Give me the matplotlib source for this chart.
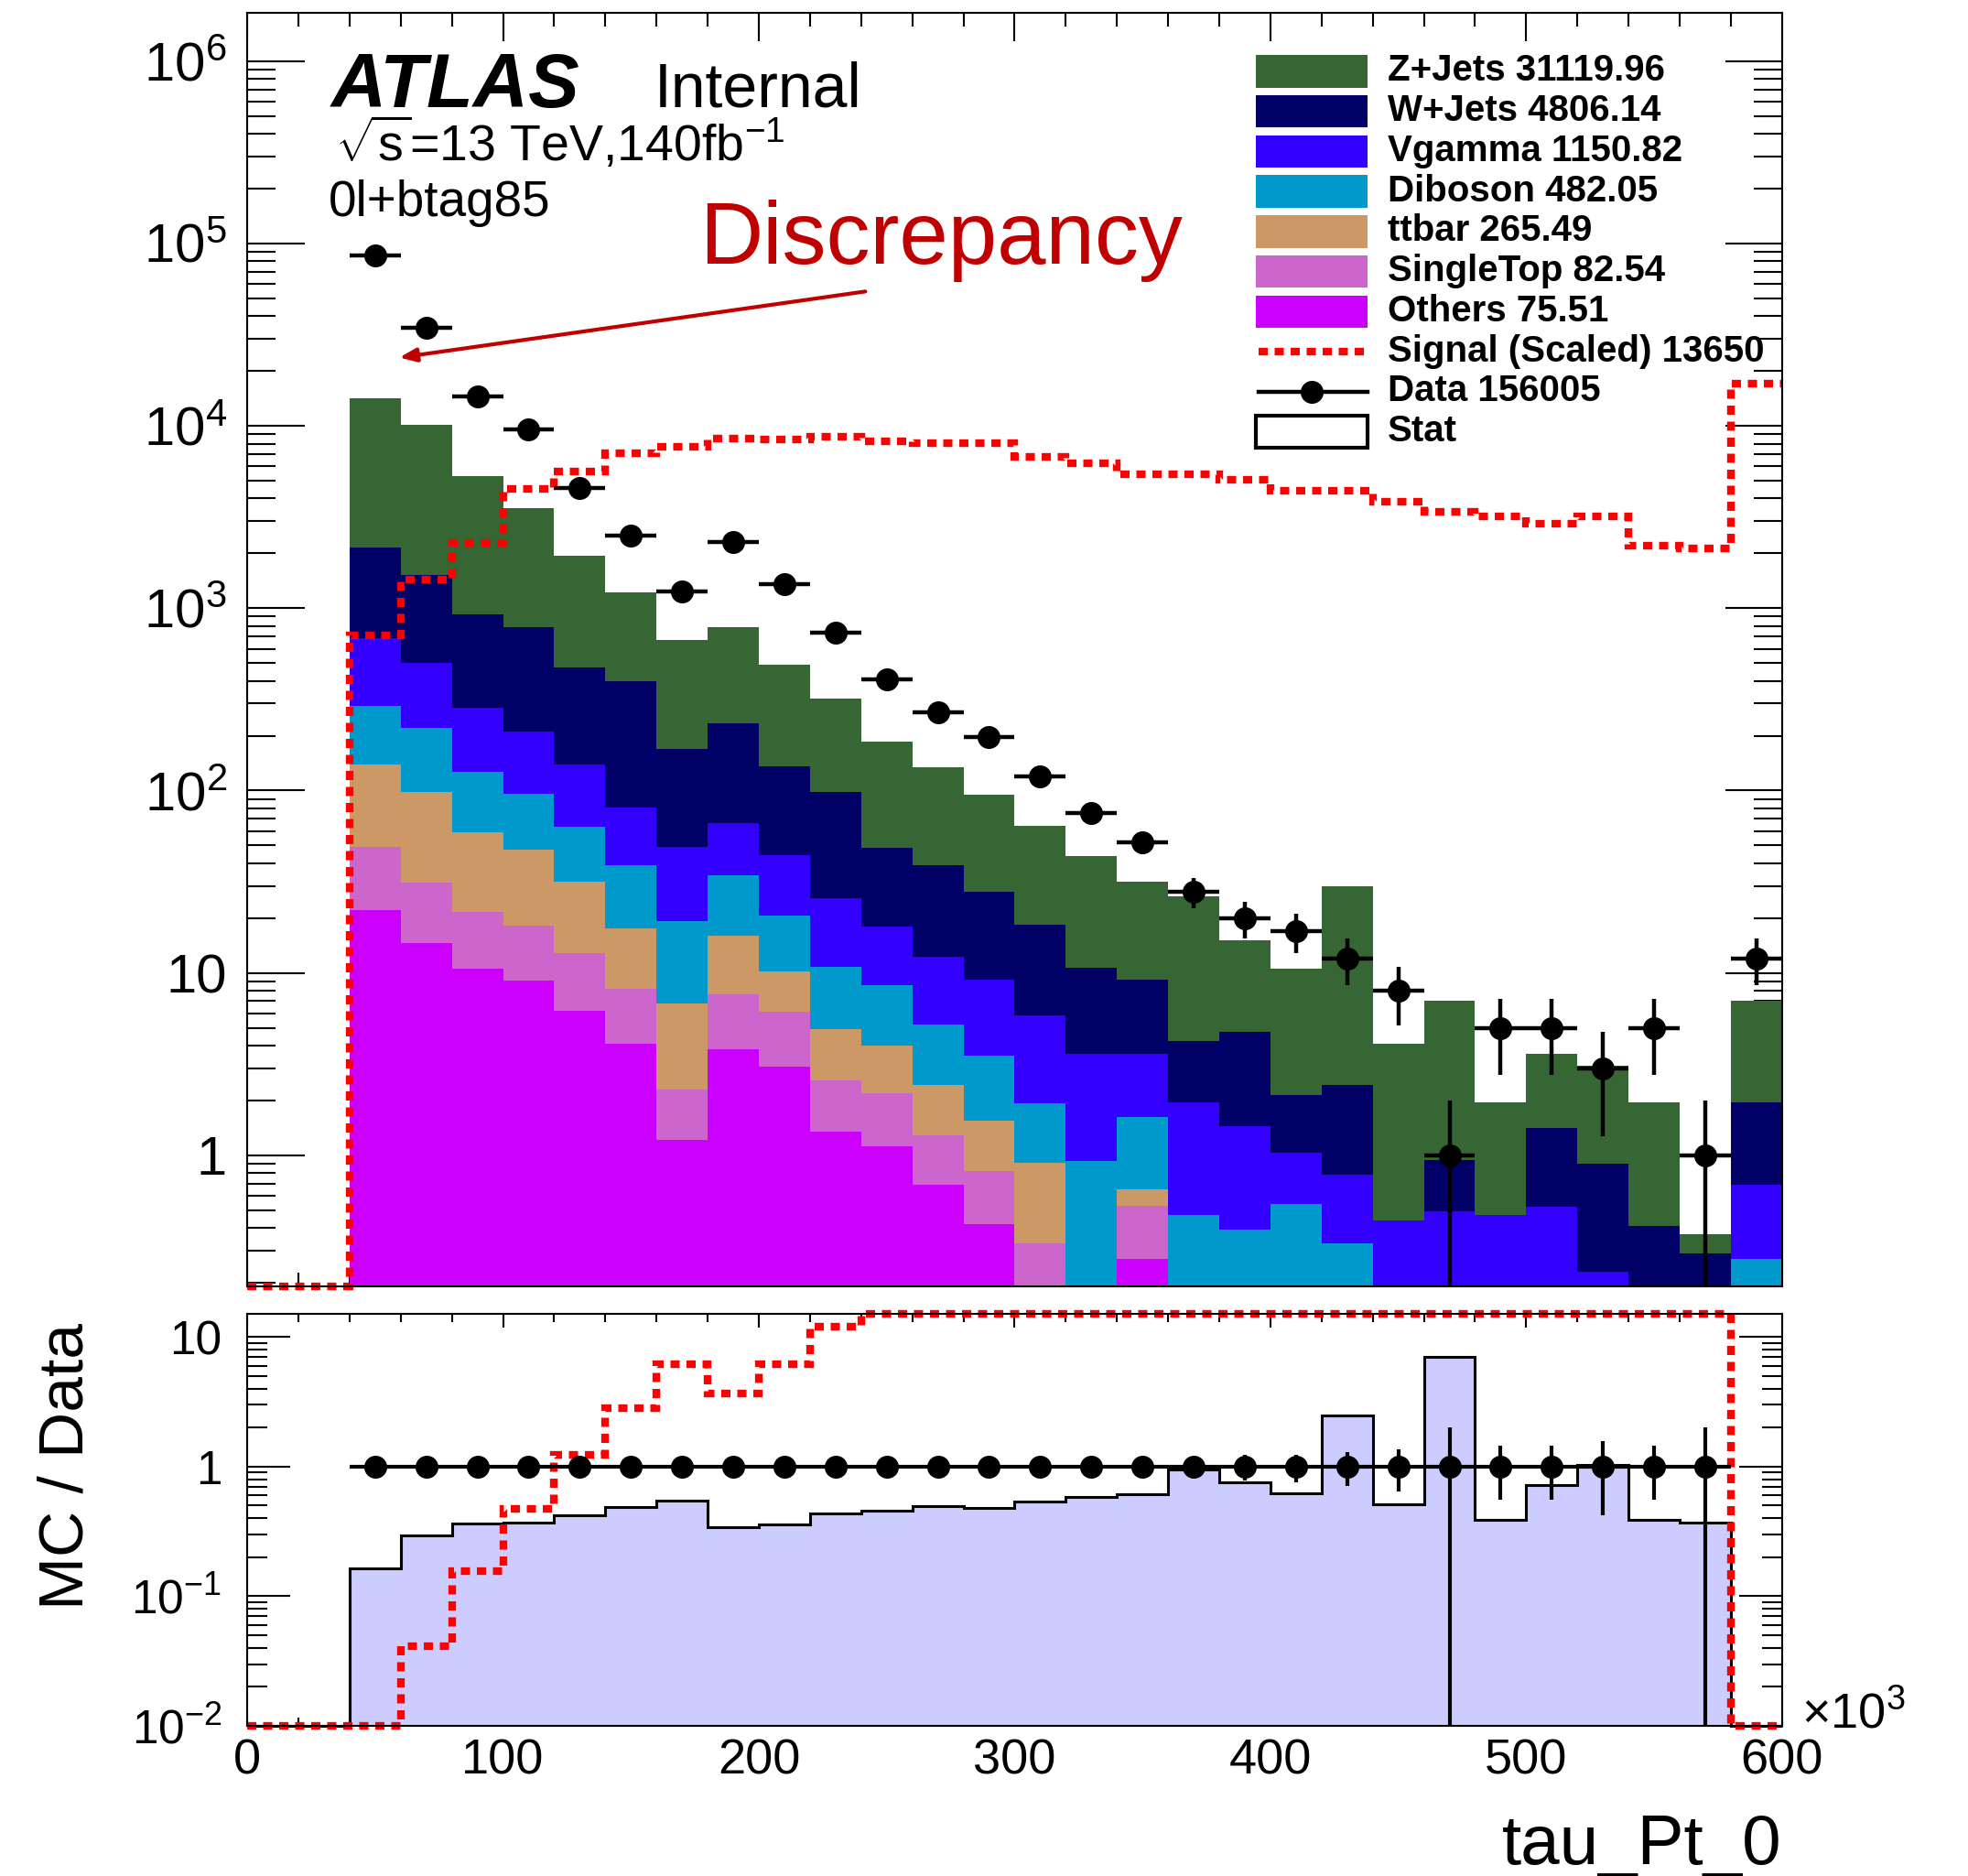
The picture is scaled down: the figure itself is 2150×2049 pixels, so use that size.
import numpy as np
import matplotlib
matplotlib.use("Agg")
import matplotlib.pyplot as plt
from matplotlib.patches import Rectangle
from matplotlib.lines import Line2D
from matplotlib.ticker import FixedLocator, FixedFormatter, MultipleLocator, LogLocator, NullFormatter

plt.rcParams["font.family"] = ["Liberation Sans", "DejaVu Sans"]
plt.rcParams["mathtext.fontset"] = "custom"
plt.rcParams["mathtext.rm"] = "Liberation Sans"
plt.rcParams["mathtext.it"] = "Liberation Sans:italic"
plt.rcParams["mathtext.bf"] = "Liberation Sans:bold"

# ------------------------- data -------------------------
# tau_Pt_0 [x10^3], 20-wide bins from 0 to 600
BIN_EDGES = np.arange(0, 620, 20)

OTHERS = [0, 0, 22.1, 14.6, 10.6, 9.07, 6.2, 4.08, 1.22, 3.82, 3.05, 1.34, 1.12, 0.69, 0.42,
          0, 0, 0.27, 0, 0, 0, 0, 0, 0, 0, 0, 0, 0, 0, 0]
SINGLETOP = [0, 0, 26.9, 16.7, 10.9, 9.13, 6.6, 4.12, 1.06, 3.85, 3.08, 1.24, 1.08, 0.60, 0.40,
             0.33, 0, 0.26, 0, 0, 0, 0, 0, 0, 0, 0, 0, 0, 0, 0]
TTBAR = [0, 0, 90.5, 67.4, 37.9, 29.3, 18.7, 9.3, 4.5, 8.33, 4.12, 2.33, 1.8, 1.14, 0.73,
         0.58, 0, 0.12, 0, 0, 0, 0, 0, 0, 0, 0, 0, 0, 0, 0]
DIBOSON = [0, 0, 151.5, 121.3, 67.6, 48.0, 31.7, 21.6, 12.5, 18.2, 10.45, 5.89, 4.6, 2.81, 1.97,
           1.02, 0.93, 0.97, 0.47, 0.39, 0.54, 0.33, 0, 0, 0, 0, 0, 0, 0, 0.27]
VGAMMA = [0, 0, 393, 284, 156.5, 116.5, 76.3, 42.1, 29.6, 32.2, 23.8, 14.9, 9.4, 6.96, 5.63,
          3.9, 2.69, 1.99, 1.48, 1.06, 0.49, 0.45, 0.44, 0.49, 0.47, 0.52, 0.23, 0, 0, 0.42]
WJETS = [0, 0, 1479, 1018, 640, 577, 332, 317, 121, 167, 91.2, 72.3, 30.7, 26.6, 18.8,
         12.6, 7.0, 5.55, 2.3, 3.32, 1.11, 1.65, 0, 0.45, 0, 0.89, 0.67, 0.41, 0.29, 1.26]
ZJETS = [0, 0, 12027, 8638, 4410, 2739, 1459, 828, 503, 550, 354, 222, 137, 95, 66.8,
         46, 33.1, 22.6, 22.2, 10.3, 8.46, 27.3, 3.66, 6.06, 1.48, 2.17, 2.2, 1.54, 0.08, 5.05]
SIGNAL = [0, 0, 710, 1431, 2277, 4520, 5610, 7080, 7700, 8500, 8400, 8770, 8260, 8010, 8010,
          6750, 6265, 5410, 5410, 5090, 4390, 4390, 3840, 3400, 3208, 2913, 3208, 2212, 2130, 17130]
DATA = [0, 0, 86300, 34470, 14570, 9550, 4566, 2497, 1239, 2312, 1360, 735, 408, 269, 197,
        119, 75, 52, 28, 20, 17, 12, 8, 1, 5, 5, 3, 5, 1, 12]

PROC_LABELS = ["Others 75.51", "SingleTop 82.54", "ttbar 265.49", "Diboson 482.05",
               "Vgamma 1150.82", "W+Jets 4806.14", "Z+Jets 31119.96"]
PROC_COLORS = ["#CC00FF", "#CC66CC", "#CC9966", "#0099CC", "#3300FF", "#000066", "#366633"]
SIGNAL_LABEL = "Signal (Scaled) 13650"
DATA_LABEL = "Data 156005"
STAT_LABEL = "Stat"

MAIN_YTICKS = [1, 10, 1e2, 1e3, 1e4, 1e5, 1e6]
MAIN_YLABELS = ["1", "10", "$10^{2}$", "$10^{3}$", "$10^{4}$", "$10^{5}$", "$10^{6}$"]
RATIO_YTICKS = [0.01, 0.1, 1, 10]
RATIO_YLABELS = ["$10^{-2}$", "$10^{-1}$", "1", "10"]

# ------------------------- settings -------------------------
YMIN, YMAX = 0.19, 1.85e6
RYMIN, RYMAX = 0.01, 15.0
FLOOR = 1e-3
SIG_RED = "#FF0000"
SIG_DASH = (0, (1.2, 0.9))
NOTE_RED = "#C00000"
LEG_FS = 29

edges = BIN_EDGES
ctr = 0.5 * (edges[:-1] + edges[1:])
data = np.array(DATA, dtype=float)
signal = np.array(SIGNAL, dtype=float)
procs = np.array([OTHERS, SINGLETOP, TTBAR, DIBOSON, VGAMMA, WJETS, ZJETS], dtype=float)
cum = np.cumsum(procs, axis=0)
mc_total = cum[-1]

fig = plt.figure(figsize=(21.5, 20.49), dpi=100)
ax = fig.add_axes([0.1256, 0.3141, 0.7799, 0.6792])
axr = fig.add_axes([0.1256, 0.0800, 0.7799, 0.2195])

# ------------------------- main panel -------------------------
# draw cumulative stack from the top down so layers cover each other cleanly
for vals, col in reversed(list(zip(cum, PROC_COLORS))):
    ax.stairs(np.maximum(vals, FLOOR), edges, baseline=FLOOR, fill=True,
              facecolor=col, edgecolor="none", lw=0, zorder=2)

ax.stairs(np.clip(signal, YMIN, None), edges, baseline=None, fill=False,
          edgecolor=SIG_RED, lw=6, linestyle=SIG_DASH, clip_on=False, zorder=4)

m = data > 0
err = np.sqrt(data[m])
lo = np.minimum(err, data[m] * 0.999999)
ax.errorbar(ctr[m], data[m], xerr=10, yerr=[lo, err], fmt="o", ms=17, color="black",
            elinewidth=3.2, capsize=0, zorder=5)

ax.set_yscale("log")
ax.set_xlim(0, 600)
ax.set_ylim(YMIN, YMAX)
ax.yaxis.set_major_locator(FixedLocator(MAIN_YTICKS))
ax.yaxis.set_major_formatter(FixedFormatter(MAIN_YLABELS))
ax.yaxis.set_minor_locator(LogLocator(base=10, subs=np.arange(2, 10), numticks=30))
ax.yaxis.set_minor_formatter(NullFormatter())
ax.xaxis.set_major_locator(MultipleLocator(100))
ax.xaxis.set_minor_locator(MultipleLocator(20))
ax.tick_params(axis="both", which="both", direction="in", top=True, right=True, width=1.5)
ax.tick_params(axis="y", which="major", length=45, labelsize=43, pad=16)
ax.tick_params(axis="y", which="minor", length=22)
ax.tick_params(axis="x", which="major", length=22, labelbottom=False)
ax.tick_params(axis="x", which="minor", length=11)
for s in ax.spines.values():
    s.set_linewidth(1.5)
    s.set_zorder(6)

# labels
ax.text(0.0547, 0.9261, "ATLAS", transform=ax.transAxes, fontsize=60,
        fontweight="bold", fontstyle="italic", va="baseline")
ax.text(0.265, 0.9261, "Internal", transform=ax.transAxes, fontsize=49, va="baseline")
ax.text(0.057, 0.8832, r"$\sqrt{\mathrm{s}}$=13 TeV,140fb$^{-1}$", transform=ax.transAxes,
        fontsize=40, va="baseline")
ax.text(0.0531, 0.8405, "0l+btag85", transform=ax.transAxes, fontsize=39.5, va="baseline")
ax.text(0.2949, 0.803, "Discrepancy", transform=ax.transAxes, fontsize=69,
        color=NOTE_RED, va="baseline")
ax.annotate("", xy=(0.0991, 0.7292), xytext=(0.4027, 0.7811),
            xycoords="axes fraction", textcoords="axes fraction",
            arrowprops=dict(arrowstyle="-|>,head_length=0.55,head_width=0.22",
                            mutation_scale=20, color=NOTE_RED, lw=3, shrinkA=0, shrinkB=0))

# legend (ROOT-style, drawn by hand)
box_x, box_w, box_h = 0.657, 0.0732, 0.0256
txt_x = 0.7431
row_y = [1 - (46.8 + 31.9 * i) / 1015 for i in range(10)]
leg_entries = list(zip(PROC_LABELS, PROC_COLORS))[::-1]
for i, (lab, col) in enumerate(leg_entries):
    yc = row_y[i]
    ax.add_patch(Rectangle((box_x, yc - box_h / 2), box_w, box_h, transform=ax.transAxes,
                           facecolor=col, edgecolor="none", clip_on=False, zorder=7))
    ax.text(txt_x, yc - 0.0075, lab, transform=ax.transAxes, fontsize=LEG_FS,
            fontweight="bold", va="baseline", zorder=7)

yc = row_y[7]
ax.add_line(Line2D([box_x + 0.002, box_x + box_w], [yc, yc], transform=ax.transAxes,
                   color=SIG_RED, lw=6, linestyle=SIG_DASH, zorder=7))
ax.text(txt_x, yc - 0.0075, SIGNAL_LABEL, transform=ax.transAxes, fontsize=LEG_FS,
        fontweight="bold", va="baseline", zorder=7)

yc = row_y[8]
ax.add_line(Line2D([box_x + 0.002, box_x + box_w], [yc, yc], transform=ax.transAxes,
                   color="black", lw=3.2, zorder=7))
ax.add_line(Line2D([0.6934], [yc], transform=ax.transAxes, marker="o", ms=17,
                   color="black", zorder=7))
ax.text(txt_x, yc - 0.0075, DATA_LABEL, transform=ax.transAxes, fontsize=LEG_FS,
        fontweight="bold", va="baseline", zorder=7)

yc = row_y[9]
ax.add_patch(Rectangle((box_x, yc - 0.0123), box_w, 0.0246, transform=ax.transAxes,
                       facecolor="white", edgecolor="black", lw=3, clip_on=False, zorder=7))
ax.text(txt_x, yc - 0.0075, STAT_LABEL, transform=ax.transAxes, fontsize=LEG_FS,
        fontweight="bold", va="baseline", zorder=7)

# ------------------------- ratio panel -------------------------
# the last (overflow) bin is not shown in the ratio
mask = (data > 0) & (ctr < 580)
ratio = np.zeros_like(data)
ratio[mask] = mc_total[mask] / data[mask]
sig_ratio = np.zeros_like(data)
sig_ratio[mask] = signal[mask] / data[mask]

axr.stairs(np.clip(ratio, RYMIN, RYMAX), edges, baseline=RYMIN, fill=True,
           facecolor="#CCCCFF", edgecolor="black", lw=2.2, clip_on=False, zorder=2)
axr.stairs(np.clip(sig_ratio, RYMIN, RYMAX), edges, baseline=None, fill=False,
           edgecolor=SIG_RED, lw=6, linestyle=SIG_DASH, clip_on=False, zorder=4)

rel = 1.0 / np.sqrt(data[mask])
rlo = np.minimum(rel, 0.999999)
axr.errorbar(ctr[mask], np.ones(mask.sum()), xerr=10, yerr=[rlo, rel], fmt="o", ms=17,
             color="black", elinewidth=3.0, capsize=0, zorder=5)

axr.set_yscale("log")
axr.set_xlim(0, 600)
axr.set_ylim(RYMIN, RYMAX)
axr.yaxis.set_major_locator(FixedLocator(RATIO_YTICKS))
axr.yaxis.set_major_formatter(FixedFormatter(RATIO_YLABELS))
axr.yaxis.set_minor_locator(LogLocator(base=10, subs=np.arange(2, 10), numticks=30))
axr.yaxis.set_minor_formatter(NullFormatter())
axr.xaxis.set_major_locator(MultipleLocator(100))
axr.xaxis.set_minor_locator(MultipleLocator(20))
axr.tick_params(axis="both", which="both", direction="in", top=True, right=True, width=1.5)
axr.tick_params(axis="y", which="major", length=34, labelsize=37, pad=20)
axr.tick_params(axis="y", which="minor", length=16)
axr.tick_params(axis="x", which="major", length=10.5, labelsize=39, pad=10)
axr.tick_params(axis="x", which="minor", length=6.5)
for s in axr.spines.values():
    s.set_linewidth(1.5)
    s.set_zorder(6)

fig.text(0.0335, 0.2183, "MC / Data", rotation=90, fontsize=50, ha="center", va="center")
fig.text(0.9055, 0.0065, "tau_Pt_0", fontsize=55, ha="right", va="baseline")
fig.text(0.9152, 0.0791, "×10$^{3}$", fontsize=39, ha="left", va="baseline")

fig.savefig("out.png", dpi=100)
